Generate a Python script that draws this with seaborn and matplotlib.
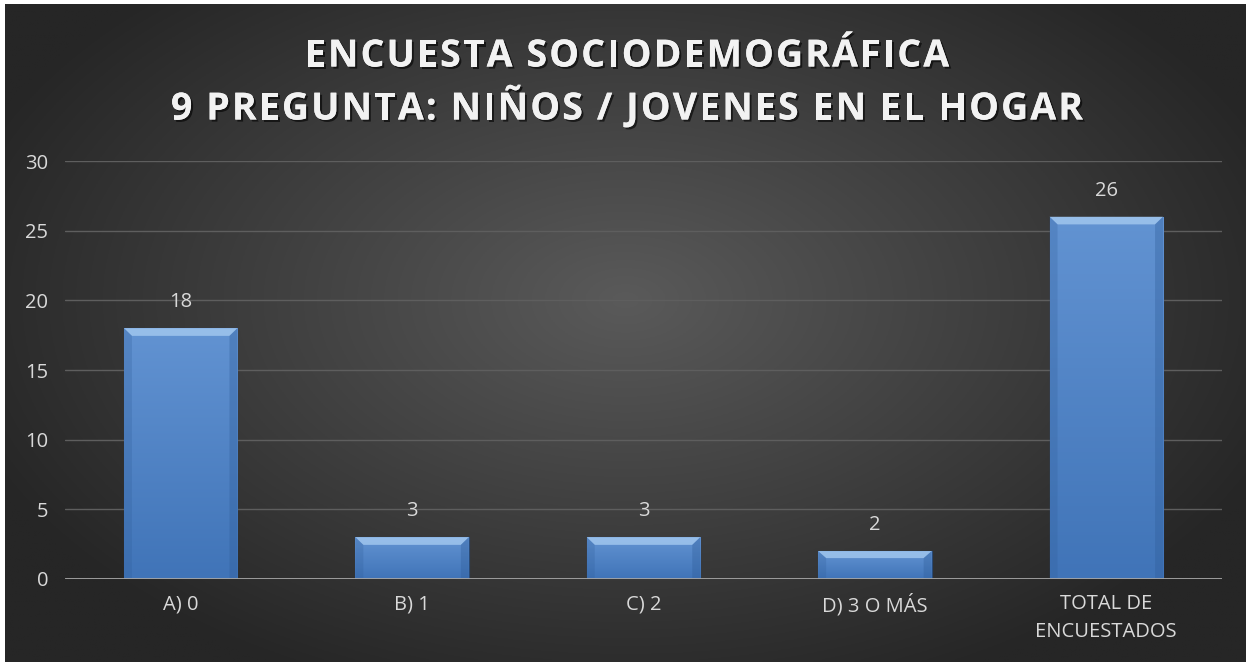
import matplotlib
matplotlib.use('Agg')
import matplotlib.pyplot as plt
import matplotlib.patheffects as pe
from matplotlib.font_manager import FontProperties, findfont, get_font
from matplotlib.ft2font import LoadFlags
import seaborn as sns
import numpy as np
import pandas as pd

# Datos de la encuesta
categorias = ['A) 0', 'B) 1', 'C) 2', 'D) 3 O MÁS', 'TOTAL DE\nENCUESTADOS']
valores = [18, 3, 3, 2, 26]
ticks_y = [0, 5, 10, 15, 20, 25, 30]
titulo = ['ENCUESTA SOCIODEMOGRÁFICA', '9 PREGUNTA: NIÑOS / JOVENES EN EL HOGAR']

df = pd.DataFrame({'categoria': categorias, 'valor': valores})

sns.set_theme(style='dark')
plt.rcParams['font.family'] = ['Open Sans', 'DejaVu Sans']

W, H, DPI = 1251, 666, 100
fig = plt.figure(figsize=(W / DPI, H / DPI), dpi=DPI)
fig.patch.set_facecolor('white')

# fondo degradado radial
bg = fig.add_axes([5 / W, 4 / H, 1 - 10 / W, 1 - 8 / H])
bg.set_axis_off()
yy, xx = np.mgrid[0:1:300j, 0:1:600j]
r = np.sqrt(((xx - 0.5) / 0.75) ** 2 + ((yy - 0.55) / 0.85) ** 2)
r = np.clip(r / 0.75, 0, 1)
c0 = np.array([0x5a, 0x5a, 0x5a]) / 255
c1 = np.array([0x26, 0x26, 0x26]) / 255
img = c0[None, None, :] * (1 - r[..., None]) + c1[None, None, :] * r[..., None]
bg.imshow(img, extent=[0, 1, 0, 1], aspect='auto', origin='lower')
bg.set_xlim(0, 1)
bg.set_ylim(0, 1)

ax = fig.add_axes([65 / W, 1 - 579 / H, (1222 - 65) / W, (579 - 161) / H])
ax.patch.set_alpha(0)

sns.barplot(data=df, x='categoria', y='valor', ax=ax, color='#4a7ec0',
            width=0.49, edgecolor='#2a4a75', linewidth=0.8, zorder=3)

# degradado y bisel en las barras
grad = np.linspace(0, 1, 100)[:, None]
top = np.array([0x62, 0x93, 0xd2]) / 255
bot = np.array([0x40, 0x74, 0xb8]) / 255
gimg = top[None, None, :] * (1 - grad[..., None]) + bot[None, None, :] * grad[..., None]
for p in ax.patches:
    x0, y0 = p.get_x(), p.get_y()
    w, h = p.get_width(), p.get_height()
    im = ax.imshow(gimg, extent=[x0, x0 + w, y0, y0 + h], aspect='auto',
                   origin='upper', zorder=3.5)
    im.set_clip_path(p)
    bev = min(0.55, h * 0.25)
    bx = w * 0.07
    ax.fill([x0, x0 + w, x0 + w - bx, x0 + bx], [y0 + h, y0 + h, y0 + h - bev, y0 + h - bev],
            color='#a9cdf2', alpha=0.75, zorder=4, linewidth=0)
    ax.fill([x0, x0 + bx, x0 + bx, x0], [y0 + h, y0 + h - bev, y0, y0],
            color='#2f5d99', alpha=0.25, zorder=4, linewidth=0)
    ax.fill([x0 + w, x0 + w - bx, x0 + w - bx, x0 + w], [y0 + h, y0 + h - bev, y0, y0],
            color='#2f5d99', alpha=0.35, zorder=4, linewidth=0)

for i, v in enumerate(valores):
    ax.text(i, v + 1.15, str(v), ha='center', va='bottom', color='#d9d9d9',
            fontsize=14.5)

ax.set_xlim(-0.5, len(categorias) - 0.5)
ax.set_ylim(0, 30)
ax.set_yticks(ticks_y)
ax.yaxis.grid(True, color='#5e5e5e', linewidth=1)
ax.xaxis.grid(False)
ax.set_axisbelow(True)
for s in ax.spines.values():
    s.set_visible(False)
ax.axhline(0, color='#a6a6a6', linewidth=2, zorder=5)
ax.tick_params(axis='both', colors='#d9d9d9', labelsize=14.5, length=0)
ax.tick_params(axis='y', pad=12)
ax.tick_params(axis='x', pad=11)
for lab in ax.get_xticklabels():
    lab.set_linespacing(1.5)
ax.set_xlabel('')
ax.set_ylabel('')

# titulo con espaciado entre letras
tsize = 27
track = 2.1  # px extra por letra
fp = FontProperties(family='Open Sans', weight='bold')
font = get_font(findfont(fp))
font.set_size(tsize, DPI)
shadow = [pe.withSimplePatchShadow(offset=(1.5, -1.5), shadow_rgbFace='black', alpha=0.6),
          pe.Normal()]
for linea, ypix in zip(titulo, [52, 105]):
    adv = []
    for ch in linea:
        g = font.load_char(ord(ch), flags=LoadFlags.NO_HINTING)
        adv.append(g.linearHoriAdvance / 65536)
    total = sum(adv) + track * (len(linea) - 1)
    x = 627 - total / 2
    for ch, a in zip(linea, adv):
        if ch != ' ':
            fig.text(x / W, 1 - ypix / H, ch, ha='left', va='center_baseline',
                     fontsize=tsize, fontweight='bold', color='#f2f2f2',
                     family=['Open Sans', 'DejaVu Sans'], path_effects=shadow)
        x += a + track

fig.savefig('out.png', dpi=DPI, facecolor=fig.get_facecolor())
